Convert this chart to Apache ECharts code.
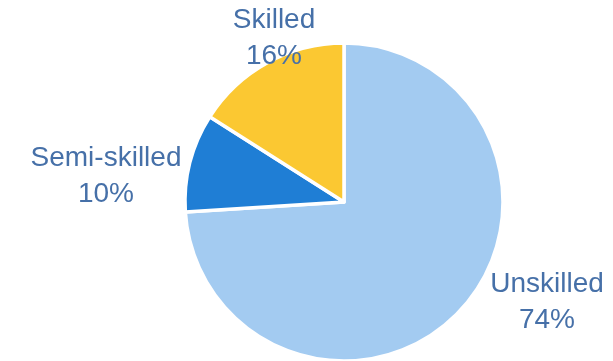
<!DOCTYPE html>
<html>
<head>
<meta charset="utf-8">
<script src="https://cdn.jsdelivr.net/npm/echarts@6/dist/echarts.min.js"></script>
<style>
  html, body { margin: 0; padding: 0; background: #fff; }
  #chart { width: 613px; height: 361px; }
</style>
</head>
<body>
<div id="chart"></div>
<script>
// Workforce composition by skill level (share of total, %)
const categories = ['Unskilled', 'Semi-skilled', 'Skilled'];
const shares = [74, 10, 16];
const sliceColors = ['#A3CBF1', '#1F7ED5', '#FBC832'];

// Label anchor points (px) for each slice, in category order
const labelAnchors = [[547, 302], [106, 176], [274, 38]];

const chart = echarts.init(document.getElementById('chart'), null, { renderer: 'canvas' });

chart.setOption({
  animation: false,
  series: [{
    type: 'pie',
    center: [344, 202],
    radius: 159,
    startAngle: 90,
    clockwise: true,
    data: categories.map((name, i) => ({
      name,
      value: shares[i],
      itemStyle: { color: sliceColors[i] }
    })),
    itemStyle: { borderColor: '#ffffff', borderWidth: 3.5 },
    label: {
      show: true,
      position: 'outside',
      formatter: p => p.name + '\n' + p.value + '%',
      color: '#4670A8',
      fontFamily: 'Liberation Sans, Arial, sans-serif',
      fontSize: 28,
      lineHeight: 36,
      align: 'center',
      overflow: 'none',
      width: 200
    },
    labelLine: { show: false },
    labelLayout: params => ({
      x: labelAnchors[params.dataIndex][0],
      y: labelAnchors[params.dataIndex][1],
      align: 'center',
      verticalAlign: 'middle'
    }),
    emphasis: { disabled: true }
  }]
});
</script>
</body>
</html>
